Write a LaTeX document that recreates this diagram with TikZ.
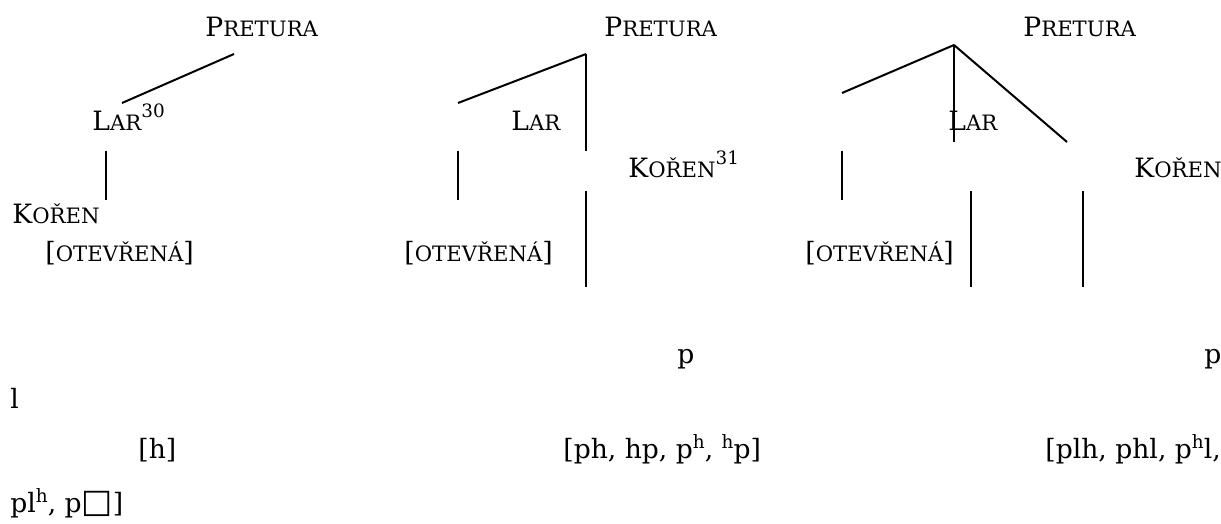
\documentclass[tikz,border=0pt]{standalone}
\usepackage{fontspec}
\setmainfont{DejaVu Serif}
\newfontfamily\boxfont{DejaVu Sans}
\usetikzlibrary{positioning}
% fake small caps and raised indices
\newcommand{\fakesc}[2]{#1{\fontsize{10.6}{12}\selectfont #2}}
\newcommand{\supnum}[1]{\raisebox{6.5pt}{\fontsize{9.2}{10}\selectfont #1}}
\newcommand{\suph}{\raisebox{5pt}{\fontsize{9.2}{10}\selectfont h}}
\tikzset{
  % Tree labels
  treelabel/.style={anchor=base west, inner sep=0pt, font=\fontsize{13.3}{15}\selectfont},
  % Branches
  branch/.style={line width=1pt, draw=black},
}

\begin{document}
\begin{tikzpicture}[x=0.5pt, y=-0.5pt]
  \useasboundingbox (0,0) rectangle (1221,524);

  % First tree
  \node[treelabel] (pret1) at (205,37) {\fakesc{P}{RETURA}};
  \node[treelabel] (lar1) at (92,131) {\fakesc{L}{AR}\supnum{30}};
  \node[treelabel] (kor1) at (12,223) {\fakesc{K}{OŘEN}};
  \node[treelabel] (otev1) at (45,261) {[\fakesc{}{OTEVŘENÁ}]};
  \node[treelabel] (seg1) at (10,408) {l};
  \node[treelabel] (real1) at (138,458) {[h]};
  \node[treelabel] (real1b) at (10,512) {pl\suph, p{\boxfont\fontsize{16.5}{17}\selectfont □}]};

  \coordinate (t1top) at (234,54);
  \coordinate (t1lar) at (122,103);
  \coordinate (t1up) at (106,151);
  \coordinate (t1dn) at (106,200);
  \draw[branch] (t1top) -- (t1lar);
  \draw[branch] (t1up) -- (t1dn);

  % Second tree
  \node[treelabel] (pret2) at (604,37) {\fakesc{P}{RETURA}};
  \node[treelabel] (lar2) at (511,131) {\fakesc{L}{AR}};
  \node[treelabel] (kor2) at (628,177) {\fakesc{K}{OŘEN}\supnum{31}};
  \node[treelabel] (otev2) at (404,261) {[\fakesc{}{OTEVŘENÁ}]};
  \node[treelabel] (seg2) at (677,363) {p};
  \node[treelabel] (real2) at (563,458) {[ph, hp, p\suph, \suph p]};

  \coordinate (t2top) at (586,54);
  \coordinate (t2lar) at (458,103);
  \coordinate (t2mid) at (586,151);
  \coordinate (t2up) at (458,151);
  \coordinate (t2dn) at (458,200);
  \coordinate (t2kup) at (586,191);
  \coordinate (t2kdn) at (586,287);
  \draw[branch] (t2top) -- (t2lar);
  \draw[branch] (t2top) -- (t2mid);
  \draw[branch] (t2up) -- (t2dn);
  \draw[branch] (t2kup) -- (t2kdn);

  % Third tree
  \node[treelabel] (pret3) at (1023,37) {\fakesc{P}{RETURA}};
  \node[treelabel] (lar3) at (948,131) {\fakesc{L}{AR}};
  \node[treelabel] (kor3) at (1134,177) {\fakesc{K}{OŘEN}};
  \node[treelabel] (otev3) at (805,261) {[\fakesc{}{OTEVŘENÁ}]};
  \node[treelabel] (seg3) at (1204,363) {p};
  \node[treelabel] (real3) at (1045,458) {[plh, phl, p\suph l,};

  \coordinate (t3top) at (954,45);
  \coordinate (t3lar) at (842,93);
  \coordinate (t3mid) at (954,142);
  \coordinate (t3kor) at (1067,142);
  \coordinate (t3up) at (842,151);
  \coordinate (t3dn) at (842,200);
  \coordinate (t3aup) at (971,191);
  \coordinate (t3adn) at (971,287);
  \coordinate (t3bup) at (1083,191);
  \coordinate (t3bdn) at (1083,287);
  \draw[branch] (t3top) -- (t3lar);
  \draw[branch] (t3top) -- (t3mid);
  \draw[branch] (t3top) -- (t3kor);
  \draw[branch] (t3up) -- (t3dn);
  \draw[branch] (t3aup) -- (t3adn);
  \draw[branch] (t3bup) -- (t3bdn);

\end{tikzpicture}
\end{document}
